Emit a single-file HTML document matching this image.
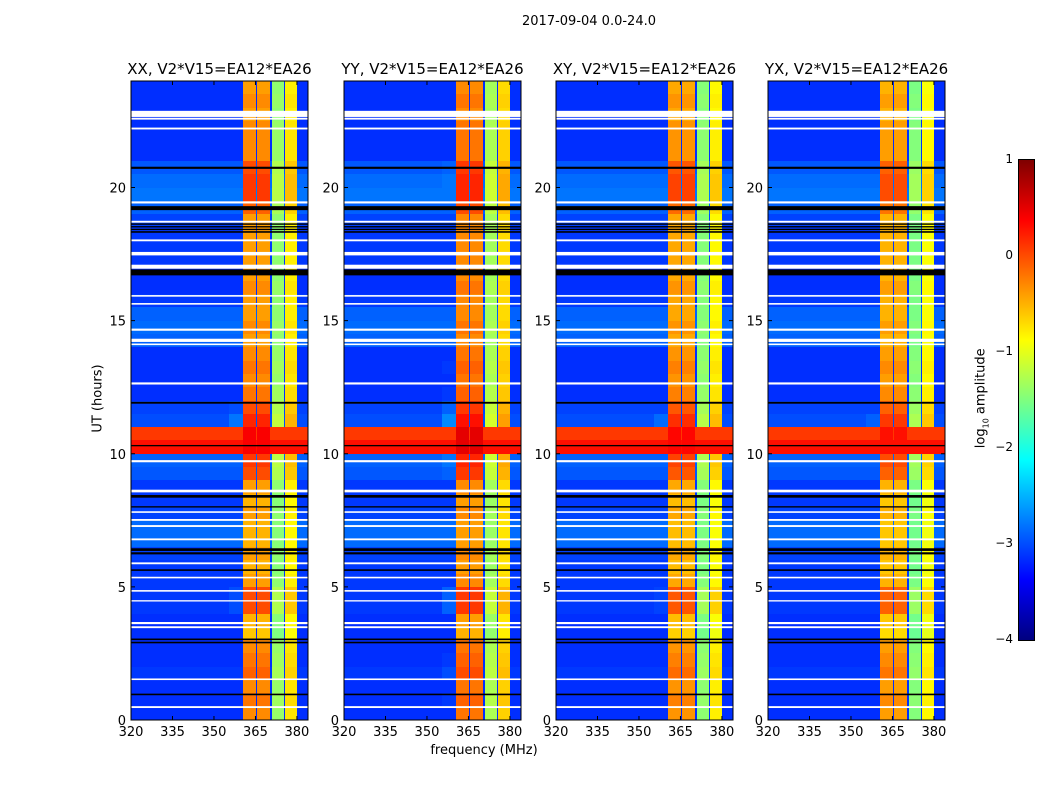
<!DOCTYPE html>
<html><head><meta charset="utf-8">
<style>
html,body{margin:0;padding:0;background:#fff;}
body{width:1050px;height:800px;position:relative;overflow:hidden;font-family:"DejaVu Sans","Liberation Sans",sans-serif;color:#000;}
.abs{position:absolute;}
canvas{position:absolute;image-rendering:pixelated;}
</style></head>
<body>
<div class="abs" style="left:489px;top:14px;width:200px;text-align:center;font-size:13px;">2017-09-04 0.0-24.0</div>
<div class="abs" style="left:48px;top:391px;width:100px;text-align:center;font-size:13px;transform:rotate(-90deg);">UT (hours)</div>
<div class="abs" style="left:384px;top:743px;width:200px;text-align:center;font-size:13px;">frequency (MHz)</div>
<div id="root"></div>
<canvas id="cbar" width="15" height="480" style="left:1019px;top:160px;width:15px;height:480px;border:1px solid #000;box-sizing:content-box;margin:-1px 0 0 -1px;"></canvas>
<div class="abs" style="left:922px;top:390px;width:120px;text-align:center;font-size:13px;transform:rotate(-90deg);">log<sub style="font-size:8px">10</sub> amplitude</div>
<script>
// ---- data ----
const panelTitles = ["XX, V2*V15=EA12*EA26","YY, V2*V15=EA12*EA26","XY, V2*V15=EA12*EA26","YX, V2*V15=EA12*EA26"];
const xTicks = [320,335,350,365,380];
const yTicks = [0,5,10,15,20];
const cbTicks = [1,0,-1,-2,-3,-4];
// background level per 0.5 h bin (0..24h)
const timeBg = [-3.15,-3.15,-3.15,-3.1,-3.15,-3.15,-3.15,-3.15,-3.1,-3.1,
  -3.1,-3.1,-3.05,-2.85,-2.85,-3.05,-3.1,-3.1,-2.95,-2.9,
  0.3,0.1,-3.0,-3.05,-3.15,-3.15,-3.15,-3.15,-2.9,-2.85,
  -2.9,-3.1,-3.15,-3.15,-3.1,-3.1,-3.1,-3.05,-2.9,-2.8,
  -2.85,-2.95,-3.15,-3.15,-3.15,-3.15,-3.15,-3.15];
// band boost per 0.5 h bin
const timeBoost = [0.3,0.4,0.3,0.5,0.4,0.3,0.0,0.1,0.6,0.6,
  0.2,0.1,0.2,0.1,0.1,0.2,0.1,0.2,0.6,0.7,
  1.0,1.0,0.8,0.6,0.4,0.3,0.4,0.3,0.2,0.3,
  0.2,0.2,0.3,0.2,0.2,0.2,0.2,0.2,0.5,0.7,
  0.7,0.6,0.3,0.3,0.3,0.2,0.3,0.2];
// frequency bands [startMHz, endMHz, level, gain]
const bandStart = [355.5,360.4,365.5,370.9,375.6];
const bandEnd   = [360.4,365.1,370.3,375.3,379.9];
const bandLevel = [-3.6,-0.6,-0.6,-1.5,-0.9];
const bandGain  = [1.0,1.0,1.0,0.4,0.5];
const panelOffset = [0,0.1,-0.05,-0.1];
// flagged rows [startHour, endHour, color]
const flagStart = [22.65,22.55,22.18,20.7,19.4,19.15,18.68,18.6,18.5,18.4,18.3,17.98,17.45,16.95,16.7,15.9,15.6,14.62,14.2,14.08,12.6,11.88,10.28,9.68,8.55,8.35,7.98,7.78,7.48,7.25,6.75,6.35,6.22,5.85,5.6,5.32,4.82,4.45,3.6,3.45,3.0,2.88,1.5,0.93,0.45];
const flagEnd   = [22.88,22.62,22.25,20.78,19.48,19.3,18.75,18.65,18.55,18.45,18.36,18.05,17.58,17.1,16.92,15.96,15.66,14.7,14.32,14.14,12.68,11.95,10.33,9.76,8.65,8.45,8.03,7.84,7.55,7.32,6.82,6.45,6.3,5.92,5.66,5.38,4.88,4.5,3.68,3.52,3.06,2.94,1.56,0.99,0.52];
const flagColor = ["w","w","w","k","w","k","w","k","k","k","k","w","w","w","k","w","w","w","w","w","w","k","k","w","w","k","k","w","w","w","w","k","k","w","k","w","w","w","w","w","k","k","w","k","w"];

// ---- scales ----
const PX=[131,344,556,768], PT=81, PW=177, PH=639;
const fMin=320, fMax=384, tMin=0, tMax=24, vMin=-4, vMax=1;
const xs=f=>(f-fMin)/(fMax-fMin)*PW;
const ys=t=>PH-(t-tMin)/(tMax-tMin)*PH;
function jet(v){
  let x=Math.max(0,Math.min(1,(v-vMin)/(vMax-vMin)));
  const c=(a)=>Math.max(0,Math.min(1,1.5-Math.abs(4*x-a)));
  return [c(3)*255,c(2)*255,c(1)*255];
}
function value(t,f,p){
  const i=Math.min(timeBg.length-1,Math.floor(t/0.5));
  let v=timeBg[i];
  for(let b=0;b<bandStart.length;b++){
    if(f>=bandStart[b]&&f<bandEnd[b]){
      v=Math.max(v,bandLevel[b]+bandGain[b]*timeBoost[i]+panelOffset[p]);
    }
  }
  return v;
}
const root=document.getElementById('root');
const NS="http://www.w3.org/2000/svg";
for(let p=0;p<4;p++){
  const cv=document.createElement('canvas');
  cv.width=PW;cv.height=PH;
  cv.style.left=PX[p]+'px';cv.style.top=PT+'px';
  
  
  root.appendChild(cv);
  const ctx=cv.getContext('2d');
  const img=ctx.createImageData(PW,PH);
  for(let y=0;y<PH;y++){
    const t=tMax-(y+0.5)/PH*(tMax-tMin);
    for(let x=0;x<PW;x++){
      const f=fMin+(x+0.5)/PW*(fMax-fMin);
      const c=jet(value(t,f,p));
      const k=(y*PW+x)*4;
      img.data[k]=c[0];img.data[k+1]=c[1];img.data[k+2]=c[2];img.data[k+3]=255;
    }
  }
  ctx.putImageData(img,0,0);
  for(let j=0;j<flagStart.length;j++){
    ctx.fillStyle=flagColor[j]==="w"?"#fff":"#000";
    const y0=ys(flagEnd[j]), y1=ys(flagStart[j]);
    ctx.fillRect(0,y0,PW,Math.max(1,y1-y0));
  }
  const svg=document.createElementNS(NS,'svg');
  svg.setAttribute('width',PW+80);svg.setAttribute('height',PH+60);
  svg.style.position='absolute';svg.style.left=(PX[p]-40)+'px';svg.style.top=(PT-30)+'px';svg.style.overflow='visible';
  
  
  const g=document.createElementNS(NS,'g');g.setAttribute('transform','translate(40,30)');svg.appendChild(g);
  const fr=document.createElementNS(NS,'rect');
  fr.setAttribute('x',0);fr.setAttribute('y',0);fr.setAttribute('width',PW);fr.setAttribute('height',PH);
  fr.setAttribute('fill','none');fr.setAttribute('stroke','#000');fr.setAttribute('stroke-width',1);
  
  
  g.appendChild(fr);
  const tt=document.createElementNS(NS,'text');
  tt.setAttribute('x',PW/2);tt.setAttribute('y',-7);tt.setAttribute('text-anchor','middle');tt.setAttribute('font-size','15');
  tt.textContent=panelTitles[p];
  
  
  g.appendChild(tt);
  xTicks.forEach(v=>{
    const x=xs(v);
    const l=document.createElementNS(NS,'path');
    l.setAttribute('d',`M${x},0v4M${x},${PH}v-4`);l.setAttribute('stroke','#000');
    
    
    g.appendChild(l);
    const t=document.createElementNS(NS,'text');
    t.setAttribute('x',x);t.setAttribute('y',PH+16);t.setAttribute('text-anchor','middle');t.setAttribute('font-size','13');
    t.textContent=v;
    
    
    g.appendChild(t);
  });
  yTicks.forEach(v=>{
    const y=ys(v);
    const l=document.createElementNS(NS,'path');
    l.setAttribute('d',`M0,${y}h4M${PW},${y}h-4`);l.setAttribute('stroke','#000');
    
    
    g.appendChild(l);
    const t=document.createElementNS(NS,'text');
    t.setAttribute('x',-5);t.setAttribute('y',y+5);t.setAttribute('text-anchor','end');t.setAttribute('font-size','13');
    t.textContent=v;
    
    
    g.appendChild(t);
  });
  root.appendChild(svg);
}
const cb=document.getElementById('cbar').getContext('2d');
for(let y=0;y<480;y++){const c=jet(vMax-(y+0.5)/480*(vMax-vMin));cb.fillStyle=`rgb(${c[0]|0},${c[1]|0},${c[2]|0})`;cb.fillRect(0,y,15,1);}
cbTicks.forEach(v=>{
  const y=160+(vMax-v)/(vMax-vMin)*480;
  const d=document.createElement('div');
  d.className='abs';d.style.left='960px';d.style.width='53px';d.style.textAlign='right';d.style.fontSize='12px';d.style.top=(y-8)+'px';
  d.textContent=v<0?'\u2212'+(-v):String(v);
  
  
  document.body.appendChild(d);
});
</script>
</body></html>
